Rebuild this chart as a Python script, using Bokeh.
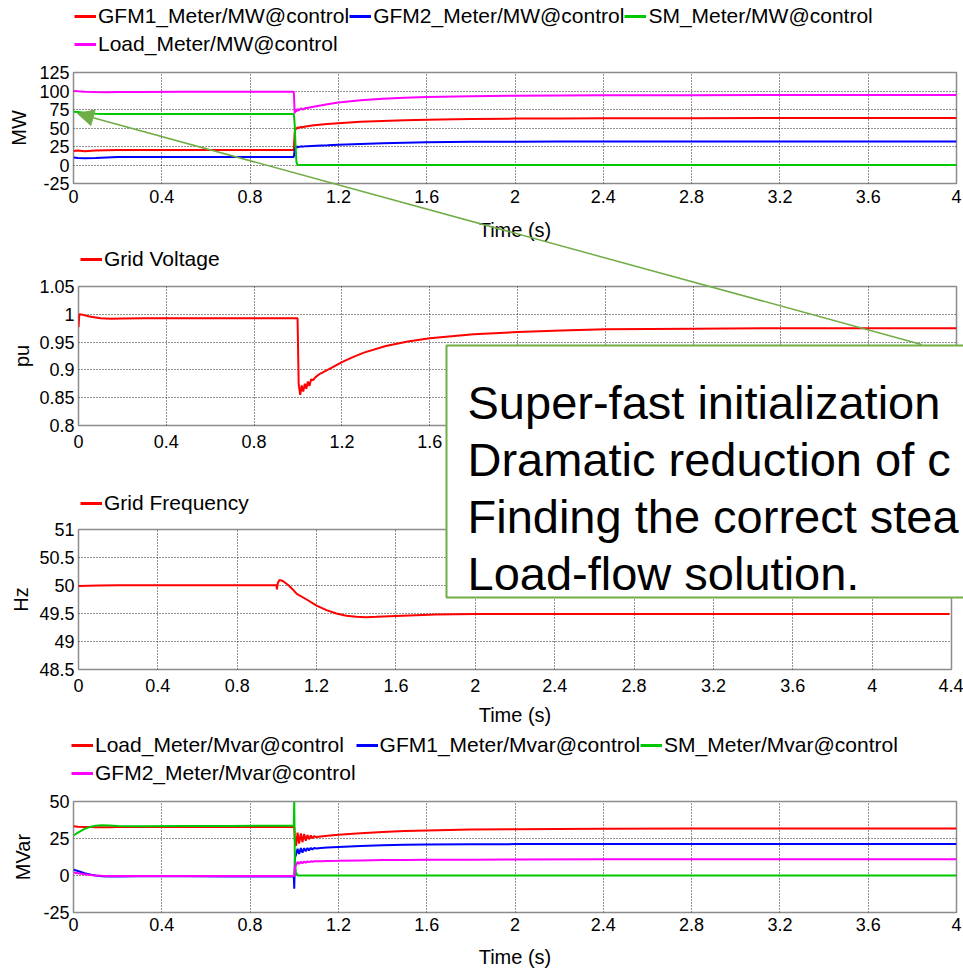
from bokeh.plotting import figure
from bokeh.models import (Range1d, FixedTicker, Legend, LegendItem, GridBox, Column, Arrow,
                          NormalHead)
from bokeh.embed import file_html
from bokeh.resources import INLINE
from bokeh.core.properties import value

FONT = "Liberation Sans"
RED = "#FF0000"
BLUE = "#0000FF"
GREEN = "#00C800"
MAGENTA = "#FF00FF"
FRAME = "#8C8C8C"
GRID = "#000000"
BOX_GREEN = "#70AD47"

# ---------------- data: panel 1 (active power, MW) ----------------
t_mw = [0, 0.02, 0.05, 0.1, 0.15, 0.2, 0.3, 0.5, 0.7, 0.9, 0.998, 1.002, 1.006, 1.01, 1.015,
        1.02, 1.03, 1.04, 1.05, 1.06, 1.08, 1.1, 1.15, 1.2, 1.3, 1.4, 1.5, 1.6, 1.8, 2.0,
        2.2, 2.4, 2.8, 3.2, 3.6, 4.0]
gfm1_mw = [19, 19.5, 18.5, 19.5, 20, 20.3, 20.3, 20.3, 20.3, 20.3, 20.3, 44, 50, 48.5, 51,
           50, 51.5, 51, 52, 52.5, 53.3, 54, 55.3, 56.5, 58.3, 59.6, 60.5, 61.2, 62.2, 62.7,
           63, 63.2, 63.3, 63.4, 63.4, 63.4]
gfm2_mw = [10, 9.5, 9, 9.5, 10.3, 10.8, 10.8, 10.8, 10.8, 10.8, 10.8, 21, 24.5, 23.3, 25,
           24.2, 25.2, 24.8, 25.5, 25.4, 25.8, 26.1, 26.6, 27.2, 28.4, 29.4, 30.2, 30.8, 31.3, 31.5,
           31.6, 31.7, 31.7, 31.7, 31.7, 31.7]
sm_mw = [72, 71.5, 70.5, 69.3, 68.8, 69, 69, 69, 69, 69, 69, 55, 25, 4, 0,
         0, 0, 0, 0, 0, 0, 0, 0, 0, 0, 0, 0, 0, 0, 0,
         0, 0, 0, 0, 0, 0]
load_mw = [100, 99.5, 99, 98.5, 98.3, 98.5, 98.8, 99, 99, 99, 99, 70, 75, 72, 76,
           73.5, 76.5, 75, 77, 77, 78.5, 79.5, 82, 84.5, 87.5, 89.5, 91, 92, 93, 93.7,
           94, 94.2, 94.4, 94.5, 94.5, 94.5]

# ---------------- data: panel 2 (grid voltage, pu) ----------------
t_pu = [0, 0.004, 0.02, 0.05, 0.1, 0.15, 0.2, 0.3, 0.5, 0.7, 0.9, 0.998, 1.003, 1.01, 1.017,
        1.024, 1.031, 1.038, 1.045, 1.052, 1.06, 1.07, 1.08, 1.1, 1.15, 1.2, 1.25, 1.3, 1.4, 1.5,
        1.6, 1.8, 2.0, 2.2, 2.4, 2.8, 3.2, 3.6, 4.0]
grid_voltage = [0.977, 1.0, 0.999, 0.996, 0.993, 0.992, 0.9925, 0.993, 0.993, 0.993, 0.993, 0.993,
                0.875, 0.855, 0.872, 0.861, 0.875, 0.866, 0.879, 0.871, 0.883, 0.882, 0.887, 0.893,
                0.903, 0.914, 0.923, 0.931, 0.943, 0.951, 0.957, 0.964, 0.968, 0.971, 0.973, 0.974,
                0.975, 0.975, 0.975]

# ---------------- data: panel 3 (grid frequency, Hz) ----------------
t_hz = [0, 0.05, 0.1, 0.2, 0.5, 0.8, 0.998, 1.0, 1.005, 1.013, 1.03, 1.06, 1.08, 1.1, 1.15,
        1.2, 1.25, 1.3, 1.35, 1.4, 1.45, 1.5, 1.6, 1.7, 1.8, 2.0, 2.4, 3.0, 3.6, 4.39]
grid_freq = [49.99, 49.995, 50.0, 50.003, 50.005, 50.005, 50.005, 49.93, 50.05, 50.1, 50.08, 50.0,
             49.93, 49.85, 49.75, 49.64, 49.56, 49.5, 49.46, 49.44, 49.435, 49.44, 49.455, 49.47,
             49.48, 49.49, 49.492, 49.49, 49.49, 49.49]

# ---------------- data: panel 4 (reactive power, MVar) ----------------
t_mvar = [0, 0.02, 0.05, 0.08, 0.1, 0.13, 0.16, 0.2, 0.3, 0.5, 0.7, 0.9, 0.998, 1.0, 1.003,
          1.008, 1.015, 1.022, 1.03, 1.037, 1.045, 1.052, 1.06, 1.067, 1.075, 1.082, 1.09, 1.1,
          1.12, 1.15, 1.2, 1.3, 1.4, 1.5, 1.6, 1.8, 2.0, 2.4, 2.8, 3.2, 3.6, 4.0]
load_mvar = [33.2, 33.0, 32.8, 32.7, 32.6, 32.6, 32.6, 32.7, 32.7, 32.7, 32.7, 32.7, 32.7, 32.7,
             24, 20, 29, 21.5, 28.5, 22.5, 28, 23.5, 27.3, 24.5, 27, 25.2, 26.5, 26, 26.4, 26.9,
             27.5, 28.6, 29.4, 30, 30.4, 31, 31.3, 31.6, 31.7, 31.7, 31.7, 31.7]
gfm1_mvar = [4, 3, 1.5, 0.5, 0, -0.5, -0.6, -0.6, -0.5, -0.5, -0.6, -0.6, -0.6, -9, 12, 14,
             18, 14.5, 18.5, 15.5, 18.5, 16.3, 18.6, 17, 18.7, 17.6, 18.6, 18.3, 18.6, 18.9,
             19.3, 19.9, 20.4, 20.7, 20.9, 21.1, 21.2, 21.3, 21.3, 21.3, 21.3, 21.3]
sm_mvar = [27, 29, 31.5, 33, 33.7, 34, 33.8, 33.5, 33.3, 33.4, 33.5, 33.6, 33.7, 50, 8, 2, 0,
           0, 0, 0, 0, 0, 0, 0, 0, 0, 0, 0, 0, 0, 0, 0, 0, 0, 0, 0, 0, 0, 0, 0, 0, 0]
gfm2_mvar = [2, 1.5, 0.8, 0.3, 0, -0.2, -0.3, -0.3, -0.3, -0.3, -0.3, -0.3, -0.3, -0.3, 5, 7,
             9.2, 7.8, 9.4, 8.3, 9.5, 8.7, 9.5, 9, 9.6, 9.3, 9.6, 9.6, 9.7, 9.8, 9.9, 10.2, 10.4,
             10.5, 10.6, 10.7, 10.8, 10.9, 10.9, 10.9, 10.9, 10.9]

# ---------------- ticks & labels ----------------
x_ticks_4 = [0, 0.4, 0.8, 1.2, 1.6, 2, 2.4, 2.8, 3.2, 3.6, 4]
x_labels_4 = ["0", "0.4", "0.8", "1.2", "1.6", "2", "2.4", "2.8", "3.2", "3.6", "4"]
x_ticks_44 = [0, 0.4, 0.8, 1.2, 1.6, 2, 2.4, 2.8, 3.2, 3.6, 4, 4.4]
x_labels_44 = ["0", "0.4", "0.8", "1.2", "1.6", "2", "2.4", "2.8", "3.2", "3.6", "4", "4.4"]
y_ticks_mw = [-25, 0, 25, 50, 75, 100, 125]
y_labels_mw = ["-25", "0", "25", "50", "75", "100", "125"]
y_ticks_pu = [0.8, 0.85, 0.9, 0.95, 1.0, 1.05]
y_labels_pu = ["0.8", "0.85", "0.9", "0.95", "1", "1.05"]
y_ticks_hz = [48.5, 49, 49.5, 50, 50.5, 51]
y_labels_hz = ["48.5", "49", "49.5", "50", "50.5", "51"]
y_ticks_mvar = [-25, 0, 25, 50]
y_labels_mvar = ["-25", "0", "25", "50"]

legend_mw = ["GFM1_Meter/MW@control", "GFM2_Meter/MW@control", "SM_Meter/MW@control",
             "Load_Meter/MW@control"]
legend_mvar = ["Load_Meter/Mvar@control", "GFM1_Meter/Mvar@control", "SM_Meter/Mvar@control",
               "GFM2_Meter/Mvar@control"]
box_lines = ["Super-fast initialization", "Dramatic reduction of c",
             "Finding the correct stea", "Load-flow solution."]

PAGE_W = 963
PAGE_H = 970


def panel(left, frame_w, top, frame_h, bottom, x_end, y_rng, xt, xl, yt, yl, ylabel,
          tick_std, xlab_std, ylab_std):
    p = figure(frame_width=frame_w, frame_height=frame_h,
               min_border_left=left, min_border_right=PAGE_W - left - frame_w,
               min_border_top=top, min_border_bottom=bottom,
               x_range=Range1d(0, x_end), y_range=Range1d(*y_rng),
               output_backend="svg", toolbar_location=None, tools="")
    p.background_fill_color = "white"
    p.border_fill_color = "white"
    p.outline_line_color = FRAME
    p.outline_line_width = 1.5
    p.xaxis.ticker = FixedTicker(ticks=xt)
    p.yaxis.ticker = FixedTicker(ticks=yt)
    p.xaxis.major_label_overrides = dict(zip(xt, xl))
    p.yaxis.major_label_overrides = dict(zip(yt, yl))
    for ax in (p.xaxis[0], p.yaxis[0]):
        ax.axis_line_color = None
        ax.major_tick_line_color = None
        ax.minor_tick_line_color = None
        ax.major_tick_out = 0
        ax.major_tick_in = 0
        ax.minor_tick_out = 0
        ax.minor_tick_in = 0
        ax.major_label_text_font = FONT
        ax.major_label_text_font_size = "18px"
        ax.major_label_text_color = "black"
        ax.axis_label_text_font = FONT
        ax.axis_label_text_font_size = "20px"
        ax.axis_label_text_font_style = "normal"
        ax.axis_label_text_color = "black"
    p.xaxis.major_label_standoff = tick_std
    p.yaxis.major_label_standoff = 4
    p.xaxis.axis_label = "Time (s)"
    p.xaxis.axis_label_standoff = xlab_std
    p.yaxis.axis_label = ylabel
    p.yaxis.axis_label_standoff = ylab_std
    for g in (p.xgrid[0], p.ygrid[0]):
        g.grid_line_color = GRID
        g.grid_line_alpha = 0.85
        g.grid_line_dash = "1 2"
        g.grid_line_width = 1
    return p


LW = 2

# panel 1  (canvas 0..248)
p1 = panel(73, 883, 72, 111, 65, 4, (-25, 125), x_ticks_4, x_labels_4, y_ticks_mw, y_labels_mw,
           "MW", 6, 13, 6)
p1.line(t_mw, gfm1_mw, line_color=RED, line_width=LW)
p1.line(t_mw, gfm2_mw, line_color=BLUE, line_width=LW)
p1.line(t_mw, sm_mw, line_color=GREEN, line_width=LW)
p1.line(t_mw, load_mw, line_color=MAGENTA, line_width=LW)

# panel 2  (canvas 248..490)
p2 = panel(78, 878, 38, 139, 65, 4, (0.8, 1.05), x_ticks_4, x_labels_4, y_ticks_pu, y_labels_pu,
           "pu", 9, 9, 3)
p2.line(t_pu, grid_voltage, line_color=RED, line_width=LW)

# panel 3  (canvas 490..730)
p3 = panel(78, 873, 39, 140, 61, 4.4, (48.5, 51), x_ticks_44, x_labels_44, y_ticks_hz, y_labels_hz,
           "Hz", 9, 9, 4)
p3.line(t_hz, grid_freq, line_color=RED, line_width=LW)

# panel 4  (canvas 730..970)
p4 = panel(73, 883, 71, 111, 58, 4, (-25, 50), x_ticks_4, x_labels_4, y_ticks_mvar, y_labels_mvar,
           "MVar", 5, 12, 6)
p4.line(t_mvar, load_mvar, line_color=RED, line_width=LW)
p4.line(t_mvar, gfm1_mvar, line_color=BLUE, line_width=LW)
p4.line(t_mvar, sm_mvar, line_color=GREEN, line_width=LW)
p4.line(t_mvar, gfm2_mvar, line_color=MAGENTA, line_width=LW)

# overlay in page-pixel coordinates: legends, call-out box, arrow
ov = figure(frame_width=PAGE_W, frame_height=PAGE_H, x_range=Range1d(0, PAGE_W),
            y_range=Range1d(PAGE_H, 0), min_border=0, x_axis_type=None, y_axis_type=None,
            toolbar_location=None, tools="", output_backend="svg",
            background_fill_color=None, border_fill_color=None, outline_line_color=None)

NAN = float("nan")


def add_legend(labels, colors, left, bottom, ncols):
    # legend-only renderers (a single NaN point draws nothing in the plot area)
    rs = [ov.line(x=[NAN], y=[NAN], line_color=c, line_width=3) for c in colors]
    items = [LegendItem(label=l, renderers=[r]) for l, r in zip(labels, rs)]
    leg = Legend(items=items, location=(left, PAGE_H - bottom),
                 orientation="horizontal", ncols=ncols,
                 padding=0, margin=0, spacing=0, glyph_width=22, glyph_height=28,
                 label_height=28, label_standoff=2, label_text_font=FONT,
                 label_text_font_size="21px", label_text_color="black",
                 border_line_color=None, background_fill_alpha=0)
    ov.add_layout(leg)


add_legend(legend_mw, [RED, BLUE, GREEN, MAGENTA], 74, 58, 3)
add_legend(["Grid Voltage"], [RED], 80, 273, 1)
add_legend(["Grid Frequency"], [RED], 80, 517, 1)
add_legend(legend_mvar, [RED, BLUE, GREEN, MAGENTA], 71, 787, 3)

ov.quad(left=[446], right=[1200], top=[345], bottom=[597], fill_color="white",
        line_color=BOX_GREEN, line_width=2)
ov.text(x=[467] * 4, y=[402, 459, 516, 573], text=box_lines, text_font=value(FONT),
        text_font_size="47px", text_baseline="alphabetic", text_align="left", text_color="black")
ov.add_layout(Arrow(end=NormalHead(size=16, fill_color=BOX_GREEN, line_color=BOX_GREEN),
                    x_start=921, y_start=344, x_end=77, y_end=113,
                    line_color=BOX_GREEN, line_width=1.5))

# each panel wrapped on its own so that frames keep their own left offsets
panels = Column(children=[Column(children=[p], spacing=0) for p in (p1, p2, p3, p4)], spacing=0)
overlay = Column(children=[ov], spacing=0)
layout = GridBox(children=[(panels, 0, 0), (overlay, 0, 0)], spacing=0)

open("out.html", "w").write(file_html(layout, INLINE))
